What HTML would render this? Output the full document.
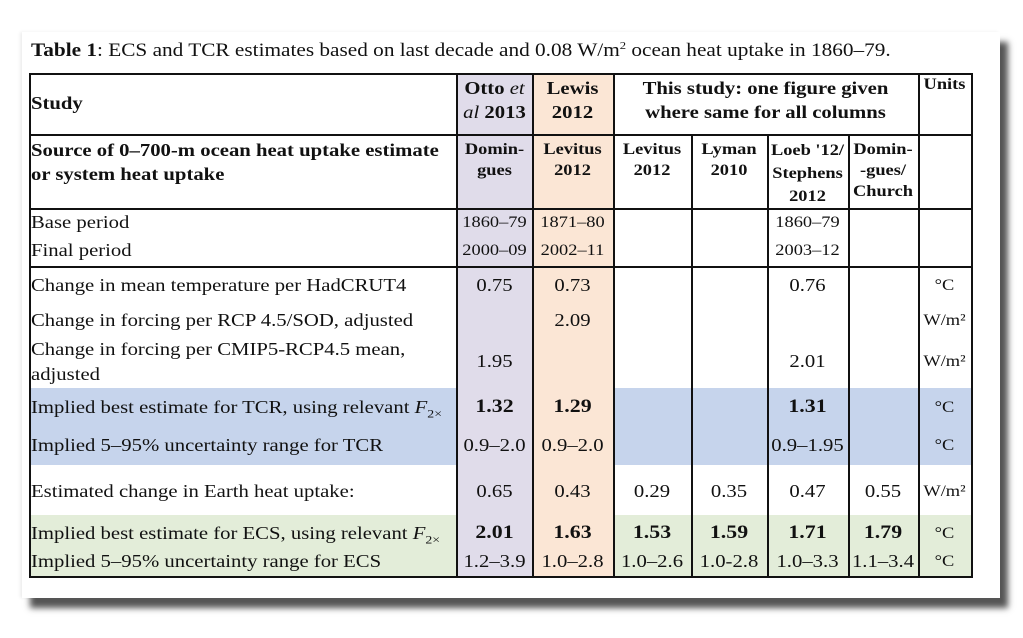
<!DOCTYPE html>
<html><head><style>
body{margin:0;width:1023px;height:638px;background:#fff;position:relative;overflow:hidden;font-family:"Liberation Serif",serif;color:#111}
.paper{position:absolute;left:22px;top:32px;width:978px;height:566px;background:#fff;box-shadow:8px 10px 6px #555, -2px 0 3px #eee}
.t{position:absolute;white-space:nowrap;font-size:18px;line-height:20px;transform:scaleX(1.15);transform-origin:left center}
.b{font-weight:bold}
.c{text-align:center;transform-origin:center center}
.bg{position:absolute}
.v{position:absolute;width:1.5px;background:#111}
.h{position:absolute;height:1.5px;background:#111}
</style></head><body>
<div class="paper"></div>
<div class="t" style="left:31px;top:36px;font-size:18.5px"><b>Table 1</b>: ECS and TCR estimates based on last decade and 0.08 W/m<sup style="font-size:11px">2</sup> ocean heat uptake in 1860–79.</div>

<div class="bg" style="left:457px;top:73px;width:75px;height:504px;background:#e0dcea"></div>
<div class="bg" style="left:532px;top:73px;width:81px;height:504px;background:#fbe6d5"></div>
<div class="bg" style="left:29px;top:388px;width:943px;height:77px;background:#c6d4ec"></div>
<div class="bg" style="left:457px;top:388px;width:75px;height:77px;background:#e0dcea"></div>
<div class="bg" style="left:532px;top:388px;width:81px;height:77px;background:#fbe6d5"></div>
<div class="bg" style="left:29px;top:515px;width:943px;height:62px;background:#e3edd9"></div>
<div class="bg" style="left:457px;top:515px;width:75px;height:62px;background:#e0dcea"></div>
<div class="bg" style="left:532px;top:515px;width:81px;height:62px;background:#fbe6d5"></div>

<div class="h" style="left:29px;top:73px;width:944px"></div>
<div class="h" style="left:29px;top:134px;width:944px"></div>
<div class="h" style="left:29px;top:208px;width:944px"></div>
<div class="h" style="left:29px;top:266px;width:944px"></div>
<div class="h" style="left:29px;top:576px;width:944px"></div>
<div class="v" style="left:29px;top:73px;height:504px"></div>
<div class="v" style="left:456px;top:73px;height:504px"></div>
<div class="v" style="left:532px;top:73px;height:504px"></div>
<div class="v" style="left:613px;top:73px;height:504px"></div>
<div class="v" style="left:691px;top:134px;height:443px"></div>
<div class="v" style="left:767px;top:134px;height:443px"></div>
<div class="v" style="left:848px;top:134px;height:443px"></div>
<div class="v" style="left:918px;top:73px;height:504px"></div>
<div class="v" style="left:971px;top:73px;height:504px"></div>

<div class="t b" style="left:31px;top:93px">Study</div>
<div class="t b c" style="left:457px;top:76px;width:75px;line-height:24px">Otto <i style="font-weight:normal">et</i><br><i style="font-weight:normal">al</i> 2013</div>
<div class="t b c" style="left:532px;top:76px;width:81px;line-height:24px">Lewis<br>2012</div>
<div class="t b c" style="left:613px;top:76px;width:305px;line-height:24px">This study: one figure given<br>where same for all columns</div>
<div class="t b c" style="left:918px;top:75px;width:53px;font-size:16px">Units</div>

<div class="t b" style="left:31px;top:138px;line-height:24px">Source of 0–700-m ocean heat uptake estimate<br>or system heat uptake</div>
<div class="t b c" style="left:457px;top:139px;width:75px;font-size:16px;line-height:21px">Domin-<br>gues</div>
<div class="t b c" style="left:532px;top:139px;width:81px;font-size:16px;line-height:21px">Levitus<br>2012</div>
<div class="t b c" style="left:613px;top:139px;width:78px;font-size:16px;line-height:21px">Levitus<br>2012</div>
<div class="t b c" style="left:691px;top:139px;width:76px;font-size:16px;line-height:21px">Lyman<br>2010</div>
<div class="t b c" style="left:767px;top:139px;width:81px;font-size:16px;line-height:23px">Loeb '12/<br>Stephens<br>2012</div>
<div class="t b c" style="left:848px;top:139px;width:70px;font-size:16px;line-height:21px">Domin-<br>-gues/<br>Church</div>

<div class="t" style="left:31px;top:212px">Base period</div>
<div class="t" style="left:31px;top:240px">Final period</div>
<div class="t c" style="left:457px;top:213px;width:75px;font-size:16px">1860–79</div>
<div class="t c" style="left:532px;top:213px;width:81px;font-size:16px">1871–80</div>
<div class="t c" style="left:767px;top:213px;width:81px;font-size:16px">1860–79</div>
<div class="t c" style="left:457px;top:241px;width:75px;font-size:16px">2000–09</div>
<div class="t c" style="left:532px;top:241px;width:81px;font-size:16px">2002–11</div>
<div class="t c" style="left:767px;top:241px;width:81px;font-size:16px">2003–12</div>

<div class="t" style="left:31px;top:275px">Change in mean temperature per HadCRUT4</div>
<div class="t c" style="left:457px;top:275px;width:75px">0.75</div>
<div class="t c" style="left:532px;top:275px;width:81px">0.73</div>
<div class="t c" style="left:767px;top:275px;width:81px">0.76</div>
<div class="t c" style="left:918px;top:276px;width:53px;font-size:16px">°C</div>

<div class="t" style="left:31px;top:310px">Change in forcing per RCP 4.5/SOD, adjusted</div>
<div class="t c" style="left:532px;top:310px;width:81px">2.09</div>
<div class="t c" style="left:918px;top:311px;width:53px;font-size:16px">W/m²</div>

<div class="t" style="left:31px;top:337px;line-height:25px">Change in forcing per CMIP5-RCP4.5 mean,<br>adjusted</div>
<div class="t c" style="left:457px;top:351px;width:75px">1.95</div>
<div class="t c" style="left:767px;top:351px;width:81px">2.01</div>
<div class="t c" style="left:918px;top:352px;width:53px;font-size:16px">W/m²</div>

<div class="t" style="left:31px;top:397px">Implied best estimate for TCR, using relevant <i>F</i><sub style="font-size:12px">2×</sub></div>
<div class="t b c" style="left:457px;top:397px;width:75px;font-size:19px">1.32</div>
<div class="t b c" style="left:532px;top:397px;width:81px;font-size:19px">1.29</div>
<div class="t b c" style="left:767px;top:397px;width:81px;font-size:19px">1.31</div>
<div class="t c" style="left:918px;top:398px;width:53px;font-size:16px">°C</div>

<div class="t" style="left:31px;top:435px">Implied 5–95% uncertainty range for TCR</div>
<div class="t c" style="left:457px;top:435px;width:75px">0.9–2.0</div>
<div class="t c" style="left:532px;top:435px;width:81px">0.9–2.0</div>
<div class="t c" style="left:767px;top:435px;width:81px">0.9–1.95</div>
<div class="t c" style="left:918px;top:436px;width:53px;font-size:16px">°C</div>

<div class="t" style="left:31px;top:481px">Estimated change in Earth heat uptake:</div>
<div class="t c" style="left:457px;top:481px;width:75px">0.65</div>
<div class="t c" style="left:532px;top:481px;width:81px">0.43</div>
<div class="t c" style="left:613px;top:481px;width:78px">0.29</div>
<div class="t c" style="left:691px;top:481px;width:76px">0.35</div>
<div class="t c" style="left:767px;top:481px;width:81px">0.47</div>
<div class="t c" style="left:848px;top:481px;width:70px">0.55</div>
<div class="t c" style="left:918px;top:482px;width:53px;font-size:16px">W/m²</div>

<div class="t" style="left:31px;top:523px">Implied best estimate for ECS, using relevant <i>F</i><sub style="font-size:12px">2×</sub></div>
<div class="t b c" style="left:457px;top:523px;width:75px;font-size:19px">2.01</div>
<div class="t b c" style="left:532px;top:523px;width:81px;font-size:19px">1.63</div>
<div class="t b c" style="left:613px;top:523px;width:78px;font-size:19px">1.53</div>
<div class="t b c" style="left:691px;top:523px;width:76px;font-size:19px">1.59</div>
<div class="t b c" style="left:767px;top:523px;width:81px;font-size:19px">1.71</div>
<div class="t b c" style="left:848px;top:523px;width:70px;font-size:19px">1.79</div>
<div class="t c" style="left:918px;top:524px;width:53px;font-size:16px">°C</div>

<div class="t" style="left:31px;top:551px">Implied 5–95% uncertainty range for ECS</div>
<div class="t c" style="left:457px;top:551px;width:75px">1.2–3.9</div>
<div class="t c" style="left:532px;top:551px;width:81px">1.0–2.8</div>
<div class="t c" style="left:613px;top:551px;width:78px">1.0–2.6</div>
<div class="t c" style="left:691px;top:551px;width:76px">1.0-2.8</div>
<div class="t c" style="left:767px;top:551px;width:81px">1.0–3.3</div>
<div class="t c" style="left:848px;top:551px;width:70px">1.1–3.4</div>
<div class="t c" style="left:918px;top:552px;width:53px;font-size:16px">°C</div>
</body></html>
